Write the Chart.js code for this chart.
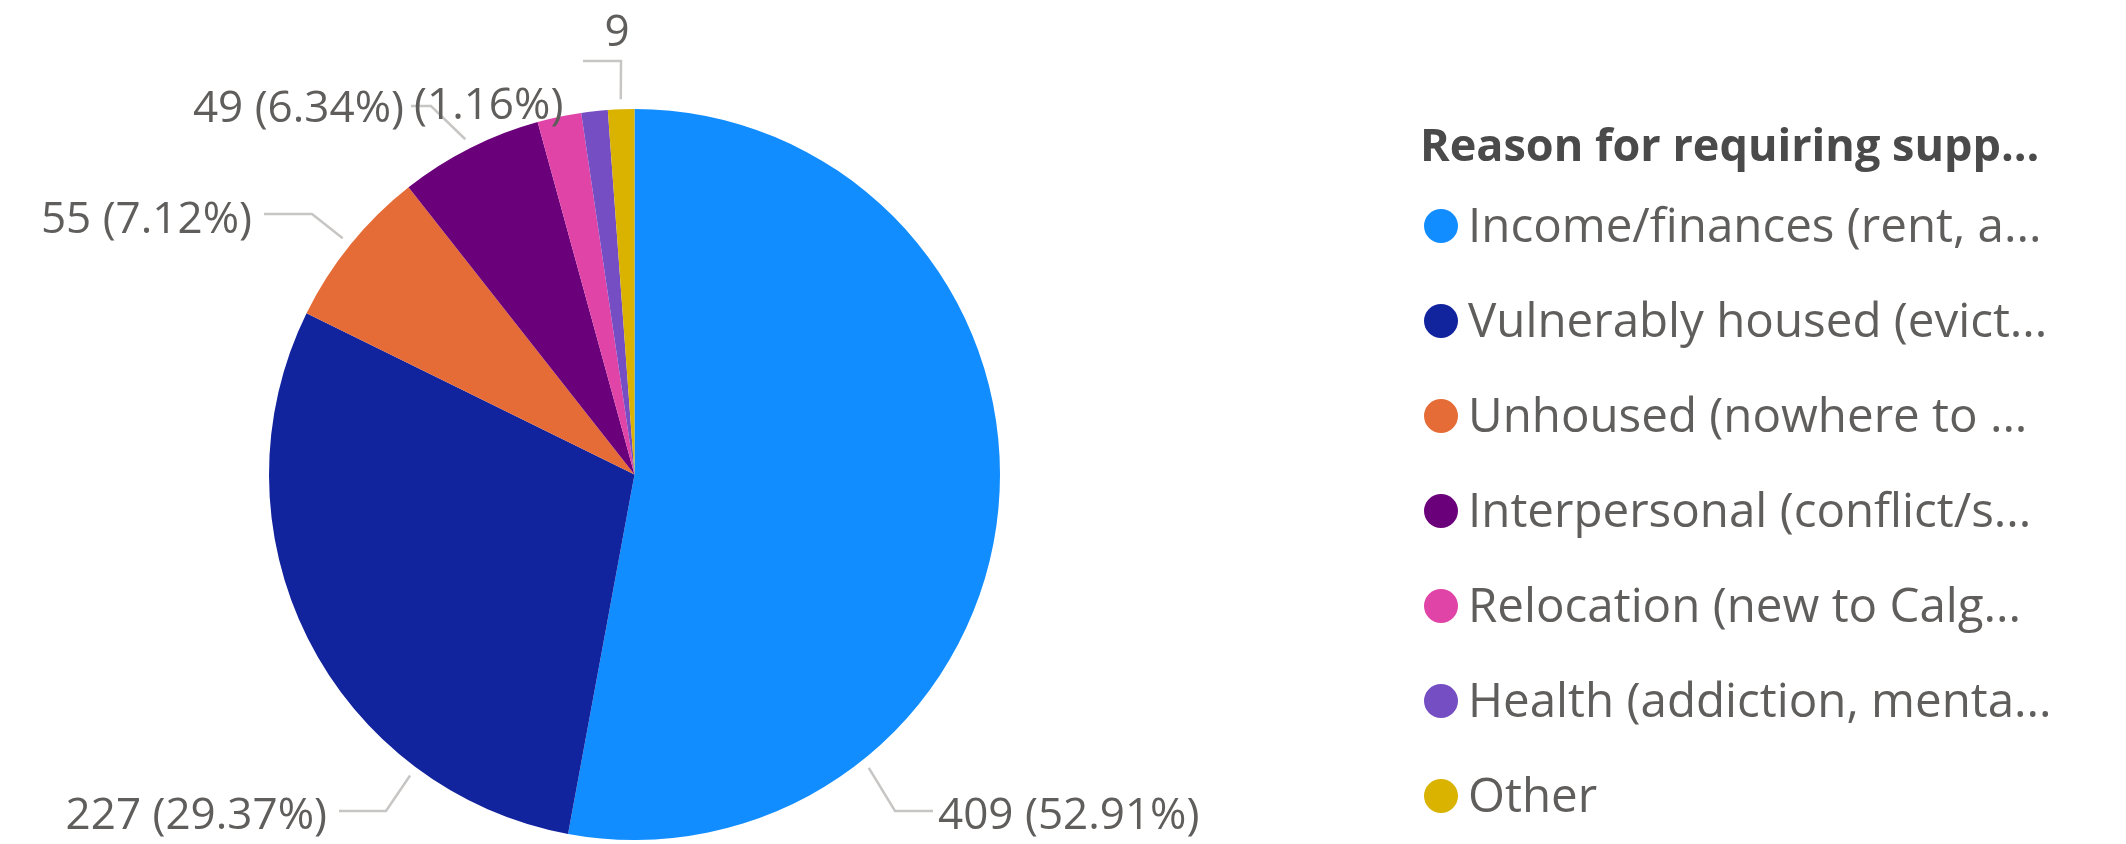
<!DOCTYPE html>
<html lang="en">
  <head>
    <meta charset="UTF-8">
    <title>Reason for requiring support</title>
    <style>
      html, body { margin: 0; padding: 0; background: #fff; }
      #wrap { width: 2126px; height: 844px; }
    </style>
  </head>
  <body>
    <div id="wrap">
      <canvas id="myChart" width="2126" height="844"></canvas>
    </div>

    <script src="https://cdn.jsdelivr.net/npm/chart.js"></script>

    <script>
      // data
      const legendTitle = 'Reason for requiring supp...';
      const categories = [
        'Income/finances (rent, a...',
        'Vulnerably housed (evict...',
        'Unhoused (nowhere to ...',
        'Interpersonal (conflict/s...',
        'Relocation (new to Calg...',
        'Health (addiction, menta...',
        'Other'
      ];
      const counts = [409, 227, 55, 49, 15, 9, 9];
      const sliceColors = ['#118DFF', '#12239E', '#E66C37', '#6B007B', '#E044A7', '#744EC2', '#D9B300'];

      const FONT = '"Open Sans", "Segoe UI", sans-serif';
      const labelColor = '#605E5C';
      const lineColor = '#C8C6C4';

      // where each outside label sits (index into counts, optional angle for the leader start)
      const labelLayout = [
        { i: 0, angle: 51.4, elbow: [895, 811], end: [933, 811], text: [938, 816], align: 'left', show: 'full' },
        { i: 1, angle: 126.7, elbow: [386, 811], end: [339, 811], text: [327, 816], align: 'right', show: 'full' },
        { i: 2, elbow: [312, 214], end: [264, 214], text: [252, 220], align: 'right', show: 'full' },
        { i: 3, elbow: [431, 106], end: [411, 106], text: [404, 109], align: 'right', show: 'full' },
        { i: 6, elbow: [621, 61], end: [583, 61], text: [617, 33], align: 'center', show: 'value' }
      ];
      // the stray "(1.16%)" piece that sits next to the small slices
      const extraLabel = { i: 5, text: [414, 106], align: 'left' };

      const total = counts.reduce((a, b) => a + b, 0);
      const pct = v => '(' + (v / total * 100).toFixed(2) + '%)';

      const outsideLabels = {
        id: 'outsideLabels',
        afterDatasetsDraw(chart) {
          const ctx = chart.ctx;
          const arcs = chart.getDatasetMeta(0).data;
          ctx.save();
          ctx.font = '44px ' + FONT;
          ctx.textBaseline = 'middle';
          ctx.lineWidth = 2.5;
          ctx.strokeStyle = lineColor;
          ctx.fillStyle = labelColor;

          labelLayout.forEach(l => {
            const arc = arcs[l.i];
            const p = arc.getProps(['x', 'y', 'startAngle', 'endAngle', 'outerRadius'], true);
            let a = l.angle !== undefined ? l.angle * Math.PI / 180 : (p.startAngle + p.endAngle) / 2;
            const r = p.outerRadius + 10;
            const sx = p.x + Math.cos(a) * r;
            const sy = p.y + Math.sin(a) * r;
            ctx.beginPath();
            ctx.moveTo(sx, sy);
            ctx.lineTo(l.elbow[0], l.elbow[1]);
            ctx.lineTo(l.end[0], l.end[1]);
            ctx.stroke();

            const v = counts[l.i];
            const txt = l.show === 'full' ? v + ' ' + pct(v) : String(v);
            ctx.textAlign = l.align;
            ctx.fillText(txt, l.text[0], l.text[1]);
          });

          ctx.textAlign = extraLabel.align;
          ctx.fillText(pct(counts[extraLabel.i]), extraLabel.text[0], extraLabel.text[1]);
          ctx.restore();
        }
      };

      const sideLegend = {
        id: 'sideLegend',
        afterDraw(chart) {
          const ctx = chart.ctx;
          ctx.save();
          ctx.textBaseline = 'middle';
          ctx.textAlign = 'left';
          ctx.fillStyle = '#4A4A4A';
          ctx.font = 'bold 45px ' + FONT;
          ctx.fillText(legendTitle, 1420, 148);

          ctx.font = '47.5px ' + FONT;
          categories.forEach((c, k) => {
            const y = 226 + k * 95;
            ctx.beginPath();
            ctx.arc(1441, y, 17, 0, Math.PI * 2);
            ctx.fillStyle = sliceColors[k];
            ctx.fill();
            ctx.fillStyle = labelColor;
            ctx.fillText(c, 1468, y + 2);
          });
          ctx.restore();
        }
      };

      const ctx = document.getElementById('myChart');

      new Chart(ctx, {
        type: 'pie',
        data: {
          labels: categories,
          datasets: [{
            data: counts,
            backgroundColor: sliceColors,
            borderWidth: 0
          }]
        },
        options: {
          responsive: false,
          animation: false,
          devicePixelRatio: 1,
          layout: {
            padding: { left: 269, top: 109, right: 1126, bottom: 4 }
          },
          plugins: {
            legend: { display: false },
            tooltip: { enabled: false }
          }
        },
        plugins: [outsideLabels, sideLegend]
      });
    </script>
  </body>
</html>
